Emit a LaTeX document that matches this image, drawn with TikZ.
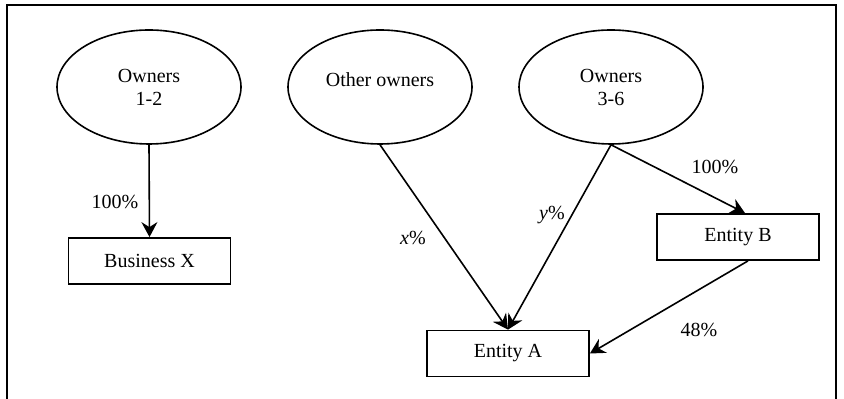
\documentclass[tikz,border=0pt]{standalone}
\usepackage{fontspec}
\setmainfont{Liberation Serif}
\usetikzlibrary{positioning,arrows.meta,shapes.geometric}
\tikzset{
  owner/.style={ellipse,draw,line width=0.8pt,minimum width=92pt,minimum height=57pt,inner sep=0pt,align=center},
  ent/.style={rectangle,draw,line width=0.9pt,minimum width=81pt,minimum height=23pt,inner sep=0pt},
  link/.style={line width=0.8pt,-{Stealth[length=7.5pt,width=8pt,inset=2.5pt]}},
  plab/.style={inner sep=0pt},
  every picture/.style={x=0.5pt,y=-0.5pt,font=\fontsize{10}{11.5}\selectfont}
}
\begin{document}
\begin{tikzpicture}
      \useasboundingbox (0,0) rectangle (844,399);
      \draw[line width=0.7pt] (7,399) -- (7,5) -- (836,5) -- (836,399);
      \node[owner] (own12) at (149,87) {Owners\\1-2};
      \node[owner] (other) at (380,87) {Other owners\\[-4pt]~};
      \node[owner] (own36) at (611,87) {Owners\\3-6};
      \node[ent] (bizX) at (149.5,261) {Business X};
      \node[ent] (entA) at (508,353.5) {Entity A};
      \node[ent] (entB) at (738,237) {Entity B};
      \draw[link] (own12.south) -- (bizX.north);
      \draw[link] (other.south) -- (entA.north);
      \draw[link] (own36.south) -- (entA.north);
      \draw[link] (own36.south) -- ([xshift=3.5pt]entB.north);
      \draw[link] ([xshift=5pt]entB.south) -- (entA.east);
      \node[plab] (l12) at (115,202) {100\%}; \node[plab] (lx) at (413,238) {\textit{x}\%};
      \node[plab] (ly) at (552,215) {\textit{y}\%}; \node[plab] (l36) at (715,167) {100\%};
      \node[plab] (lB) at (699,330) {48\%};
    \end{tikzpicture}
\end{document}
